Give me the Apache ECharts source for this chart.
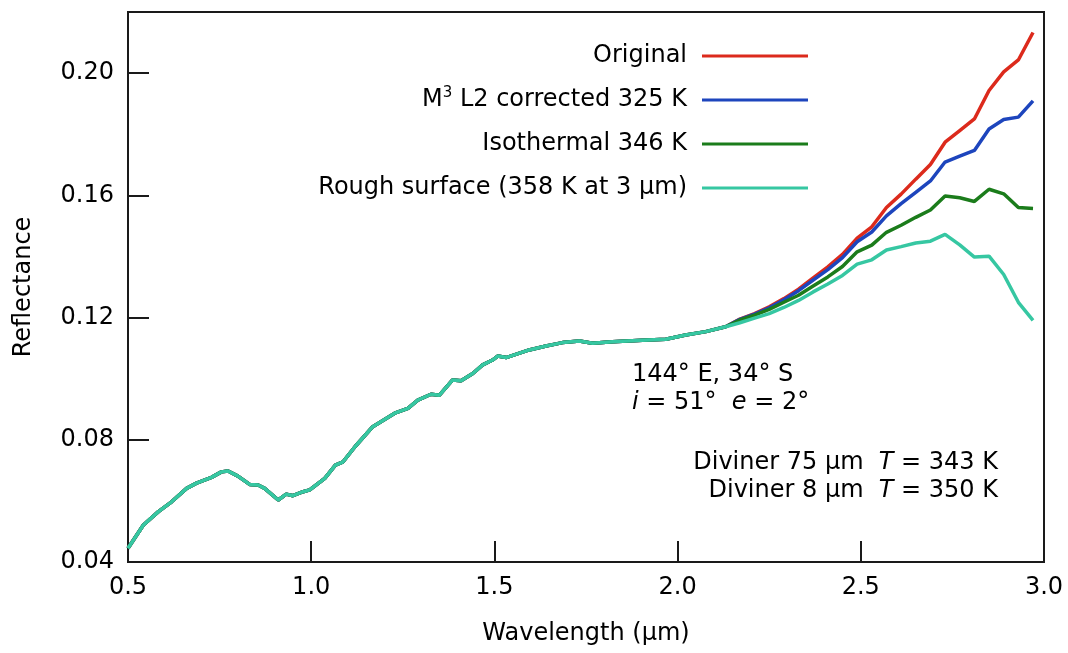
<!DOCTYPE html>
<html>
<head>
<meta charset="utf-8">
<script src="https://cdn.jsdelivr.net/npm/echarts@6/dist/echarts.min.js"></script>
<style>
  html, body { margin: 0; padding: 0; background: #fff; }
  #chart { width: 1068px; height: 653px; }
</style>
</head>
<body>
<div id="chart"></div>
<script>
// shared part of the spectrum (all four curves lie on top of each other here)
const commonWl = [0.500, 0.542, 0.583, 0.619, 0.660, 0.687, 0.728, 0.755, 0.773, 0.800,
                  0.832, 0.855, 0.873, 0.910, 0.932, 0.950, 0.978, 0.996, 1.037, 1.066,
                  1.087, 1.120, 1.168, 1.228, 1.264, 1.291, 1.327, 1.350, 1.386, 1.409,
                  1.441, 1.468, 1.495, 1.509, 1.532, 1.595, 1.641, 1.686, 1.732, 1.768,
                  1.822, 1.904, 1.968, 2.022, 2.077, 2.131];
const commonR = [0.0445, 0.0521, 0.0565, 0.0597, 0.0641, 0.0658, 0.0677, 0.0695, 0.0698, 0.0681,
                 0.0654, 0.0652, 0.0641, 0.0603, 0.0622, 0.0617, 0.0630, 0.0636, 0.0674, 0.0717,
                 0.0728, 0.0778, 0.0843, 0.0887, 0.0903, 0.0930, 0.0949, 0.0946, 0.0996, 0.0993,
                 0.1017, 0.1045, 0.1061, 0.1074, 0.1069, 0.1094, 0.1107, 0.1118, 0.1123, 0.1116,
                 0.1121, 0.1126, 0.1129, 0.1143, 0.1154, 0.1170];

// long-wavelength end where the corrections split apart
const tailWl = [2.17, 2.21, 2.25, 2.29, 2.33, 2.37, 2.41, 2.45, 2.49, 2.53, 2.57,
                2.61, 2.65, 2.69, 2.73, 2.77, 2.81, 2.85, 2.89, 2.93, 2.97];
const original = [0.1195, 0.1213, 0.1235, 0.1262, 0.1293, 0.1330, 0.1366, 0.1407, 0.1460, 0.1497, 0.1560,
                  0.1604, 0.1653, 0.1701, 0.1774, 0.1812, 0.1850, 0.1943, 0.2004, 0.2043, 0.2133];
const m3Corrected = [0.1194, 0.1211, 0.1232, 0.1258, 0.1288, 0.1323, 0.1357, 0.1396, 0.1448, 0.1480, 0.1533,
                     0.1573, 0.1610, 0.1647, 0.1709, 0.1728, 0.1747, 0.1817, 0.1848, 0.1856, 0.1909];
const isothermal = [0.1192, 0.1208, 0.1227, 0.1250, 0.1273, 0.1303, 0.1333, 0.1367, 0.1415, 0.1437, 0.1479,
                    0.1502, 0.1528, 0.1552, 0.1598, 0.1592, 0.1580, 0.1620, 0.1605, 0.1560, 0.1557];
const rough = [0.1183, 0.1198, 0.1213, 0.1233, 0.1256, 0.1284, 0.1310, 0.1338, 0.1375, 0.1389, 0.1421,
               0.1432, 0.1444, 0.1450, 0.1472, 0.1438, 0.1398, 0.1401, 0.1341, 0.1250, 0.1191];

const names = ["Original", "M3 L2 corrected 325 K", "Isothermal 346 K", "Rough surface (358 K at 3 μm)"];
const tails = [original, m3Corrected, isothermal, rough];
const colors = ["#dc2a1c", "#1d45bd", "#1b7c1b", "#36c7a2"];

const FONT = "DejaVu Sans";
const italic = { it: { fontStyle: "italic", fontSize: 24, fontFamily: FONT, lineHeight: 28 } };

function buildSeries() {
  const common = commonWl.map((w, i) => [w, commonR[i]]);
  return names.map((name, k) => ({
    type: "line",
    name: name,
    showSymbol: false,
    symbol: "none",
    color: colors[k],
    lineStyle: { width: 3.5, color: colors[k] },
    data: common.concat(tailWl.map((w, i) => [w, tails[k][i]])),
    z: 2 + k
  }));
}

const chart = echarts.init(document.getElementById("chart"), null, { renderer: "canvas" });

chart.setOption({
  animation: false,
  backgroundColor: "#fff",
  textStyle: { fontFamily: FONT, color: "#000" },
  grid: {
    left: 128, right: 24, top: 12, bottom: 91,
    show: true, borderColor: "#1a1a1a", borderWidth: 2
  },
  xAxis: {
    type: "value",
    min: 0.5, max: 3.0, interval: 0.5,
    name: "Wavelength (μm)",
    nameLocation: "middle",
    nameGap: 58,
    nameTextStyle: { fontSize: 24, fontFamily: FONT, color: "#000", lineHeight: 28 },
    axisLine: { show: false },
    axisTick: { inside: true, length: 21, lineStyle: { color: "#1a1a1a", width: 2 } },
    axisLabel: {
      margin: 12, fontSize: 24, lineHeight: 28, fontFamily: FONT, color: "#000",
      formatter: v => v.toFixed(1)
    },
    splitLine: { show: false }
  },
  yAxis: {
    type: "value",
    min: 0.04, max: 0.22, interval: 0.04,
    name: "Reflectance",
    nameLocation: "middle",
    nameGap: 90,
    nameTextStyle: { fontSize: 24, fontFamily: FONT, color: "#000", lineHeight: 28 },
    axisLine: { show: false },
    axisTick: { inside: true, length: 21, lineStyle: { color: "#1a1a1a", width: 2 } },
    axisLabel: {
      margin: 14, fontSize: 24, fontFamily: FONT, color: "#000",
      showMaxLabel: false,
      formatter: v => (Math.abs(v - 0.22) < 1e-6 ? "" : v.toFixed(2))
    },
    splitLine: { show: false }
  },
  legend: {
    orient: "vertical",
    align: "right",
    right: 255,
    top: 37,
    itemGap: 16,
    itemWidth: 106,
    itemHeight: 3,
    icon: "rect",
    selectedMode: false,
    formatter: name => name.replace("M3", "M{sup|3}"),
    textStyle: {
      fontSize: 24, fontFamily: FONT, color: "#000", lineHeight: 28,
      padding: [0, 10, 0, 0],
      rich: {
        sup: { fontSize: 15, fontFamily: FONT, color: "#000", verticalAlign: "top" }
      }
    },
    data: names
  },
  graphic: [
    {
      type: "text",
      left: 632, top: 361,
      style: {
        text: "144° E, 34° S\n{it|i} = 51°  {it|e} = 2°",
        font: "24px " + FONT,
        fill: "#000",
        lineHeight: 28,
        rich: italic
      }
    },
    {
      type: "text",
      right: 70, top: 449,
      style: {
        text: "Diviner 75 μm  {it|T} = 343 K",
        font: "24px " + FONT,
        fill: "#000",
        lineHeight: 28,
        rich: italic
      }
    },
    {
      type: "text",
      right: 70, top: 477,
      style: {
        text: "Diviner 8 μm  {it|T} = 350 K",
        font: "24px " + FONT,
        fill: "#000",
        lineHeight: 28,
        rich: italic
      }
    }
  ],
  series: buildSeries()
});
</script>
</body>
</html>
